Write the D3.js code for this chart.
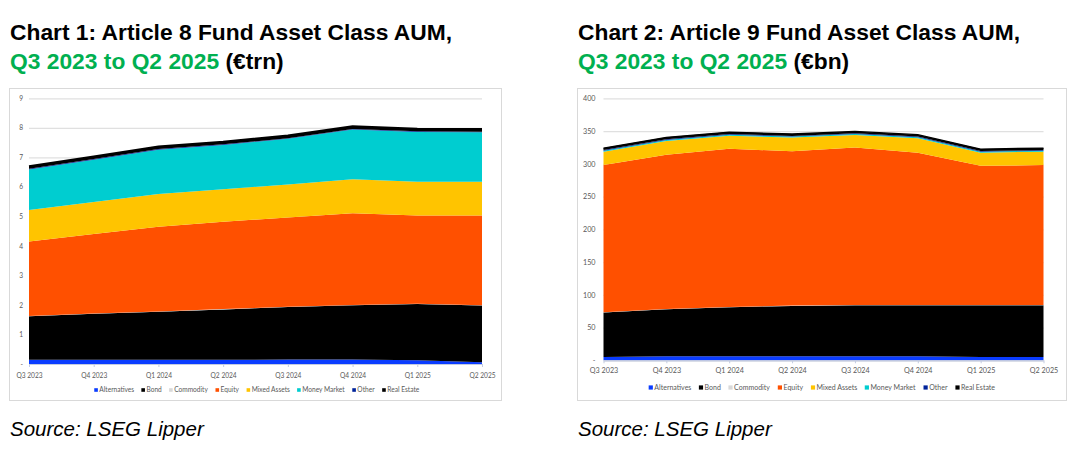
<!DOCTYPE html>
<html>
<head>
<meta charset="utf-8">
<script src="https://cdn.jsdelivr.net/npm/d3@7"></script>
<style>
  body { margin: 0; background: #fff; }
  svg { display: block; }
</style>
</head>
<body>
<svg id="chart" width="1080" height="450"></svg>
<script>
// DATA

var quarters = ["Q3 2023", "Q4 2023", "Q1 2024", "Q2 2024", "Q3 2024", "Q4 2024", "Q1 2025", "Q2 2025"];
var seriesNames = ["Alternatives", "Bond", "Commodity", "Equity", "Mixed Assets", "Money Market", "Other", "Real Estate"];
var seriesColors = ["#0a3cff", "#000000", "#d9d9d9", "#ff5000", "#ffc400", "#00cdd0", "#00239a", "#000000"];

// chart 1, article 8, EUR trn
var art8Alternatives = [0.14, 0.14, 0.14, 0.14, 0.15, 0.15, 0.13, 0.06];
var art8Bond         = [1.48, 1.56, 1.63, 1.71, 1.78, 1.84, 1.90, 1.92];
var art8Commodity    = [0.01, 0.01, 0.01, 0.01, 0.01, 0.01, 0.01, 0.01];
var art8Equity       = [2.52, 2.69, 2.87, 2.96, 3.02, 3.11, 2.99, 3.04];
var art8Mixed        = [1.07, 1.09, 1.11, 1.10, 1.12, 1.15, 1.14, 1.14];
var art8Money        = [1.37, 1.43, 1.50, 1.50, 1.55, 1.68, 1.69, 1.68];
var art8Other        = [0.02, 0.02, 0.02, 0.02, 0.02, 0.02, 0.02, 0.02];
var art8RealEstate   = [0.09, 0.09, 0.09, 0.09, 0.09, 0.09, 0.09, 0.09];
var art8Ticks = [0, 1, 2, 3, 4, 5, 6, 7, 8, 9];

// chart 2, article 9, EUR bn
var art9Alternatives = [5, 6, 6, 6, 6, 6, 5, 5];
var art9Bond         = [68, 72, 75, 77, 78, 78, 79, 79];
var art9Commodity    = [0.5, 0.5, 0.5, 0.5, 0.5, 0.5, 0.5, 0.5];
var art9Equity       = [224.5, 235.5, 241.5, 235.5, 240.5, 232.5, 212.5, 213.5];
var art9Mixed        = [20.5, 21, 20, 21, 19, 22, 20, 20.5];
var art9Money        = [1.5, 1.5, 1.5, 1.5, 1.5, 1.5, 1.5, 1.5];
var art9Other        = [1, 1, 1, 1, 1, 1, 1, 1];
var art9RealEstate   = [3, 3, 3, 3, 3, 3, 3, 3];
var art9Ticks = [0, 50, 100, 150, 200, 250, 300, 350, 400];

var svg = d3.select('#chart');

// turn the named arrays into rows for d3.stack
var makeRows = function (cols) {
  return quarters.map(function (q, i) {
    var row = {quarter: q};
    seriesNames.forEach(function (name, j) { row[name] = cols[j][i]; });
    return row;
  });
};

// TITLES + SOURCE

var drawTitle = function (x, number, article, unit) {
  svg.append('text')
    .attr('x', x).attr('y', 40)
    .style('font-family', 'Liberation Sans, Arial, sans-serif')
    .style('font-weight', 'bold')
    .style('font-size', '22.8px')
    .text('Chart ' + number + ': Article ' + article + ' Fund Asset Class AUM,');
  var t2 = svg.append('text')
    .attr('x', x).attr('y', 69)
    .style('font-family', 'Liberation Sans, Arial, sans-serif')
    .style('font-weight', 'bold')
    .style('font-size', '22.8px');
  t2.append('tspan').attr('fill', '#00b050').text('Q3 2023 to Q2 2025');
  t2.append('tspan').attr('fill', '#000').text(' (' + unit + ')');

  svg.append('text')
    .attr('x', x).attr('y', 436)
    .style('font-family', 'Liberation Sans, Arial, sans-serif')
    .style('font-style', 'italic')
    .style('font-size', '20.5px')
    .text('Source: LSEG Lipper');
};

// ONE CHART

var drawChart = function (c) {
  var g = svg.append('g');

  g.append('rect')
    .attr('x', c.frame[0] + 0.5).attr('y', c.frame[1] + 0.5)
    .attr('width', c.frame[2] - c.frame[0]).attr('height', c.frame[3] - c.frame[1])
    .attr('fill', '#fff').attr('stroke', '#d9d9d9');

  var x = d3.scalePoint().domain(quarters).range([c.left, c.right]);
  var y = d3.scaleLinear().domain([0, c.ticks[c.ticks.length - 1]]).range([c.bottom, c.top]);

  // gridlines + y labels
  var yAxis = g.append('g')
    .attr('transform', 'translate(' + c.left + ',0)')
    .call(d3.axisLeft(y).tickValues(c.ticks).tickSize(-(c.right - c.left)).tickPadding(c.yPad)
      .tickFormat(function (d) { return d === 0 ? '-' : d; }));
  yAxis.select('.domain').remove();
  yAxis.selectAll('line').attr('stroke', '#e0e0e0').attr('stroke-width', 1.2);
  yAxis.selectAll('text')
    .attr('fill', '#595959')
    .style('font-family', 'Lato, sans-serif')
    .style('font-size', c.fontSize + 'px');

  // stacked areas
  var stacked = d3.stack().keys(seriesNames)(makeRows(c.cols));
  var area = d3.area()
    .x(function (d) { return x(d.data.quarter); })
    .y0(function (d) { return y(d[0]); })
    .y1(function (d) { return y(d[1]); });

  g.selectAll('path.layer')
    .data(stacked)
    .enter()
    .append('path')
    .attr('class', 'layer')
    .attr('d', area)
    .attr('fill', function (d, i) { return seriesColors[i]; });

  // top outline (real estate sits on top as a thin black band)
  var top = stacked[stacked.length - 1];
  g.append('path')
    .datum(top)
    .attr('d', d3.line()
      .x(function (d) { return x(d.data.quarter); })
      .y(function (d) { return y(d[1]); }))
    .attr('fill', 'none').attr('stroke', '#000').attr('stroke-width', c.topLine);

  // x axis
  var xAxis = g.append('g')
    .attr('transform', 'translate(0,' + c.bottom + ')')
    .call(d3.axisBottom(x).tickSize(3).tickPadding(c.xPad).tickSizeOuter(0));
  xAxis.select('.domain').attr('stroke', '#c3cbe0').attr('stroke-width', 1.2);
  xAxis.selectAll('line').attr('stroke', '#c3cbe0');
  xAxis.selectAll('text')
    .attr('fill', '#595959')
    .style('font-family', 'Lato, sans-serif')
    .style('font-size', c.fontSize + 'px');

  // legend, centred under the plot
  var legend = g.append('g');
  var items = legend.selectAll('g.item')
    .data(seriesNames)
    .enter()
    .append('g')
    .attr('class', 'item');
  items.append('rect')
    .attr('width', c.box).attr('height', c.box)
    .attr('y', -c.box / 2)
    .attr('fill', function (d, i) { return seriesColors[i]; });
  items.append('text')
    .attr('x', c.box + 1.5)
    .attr('dy', '0.35em')
    .attr('fill', '#595959')
    .style('font-family', 'Lato, sans-serif')
    .style('font-size', c.legendSize + 'px')
    .text(function (d) { return d; });
  var pos = 0;
  items.each(function () {
    var w = this.getBBox().width;
    d3.select(this).attr('transform', 'translate(' + pos + ',0)');
    pos += w + c.legendGap;
  });
  var total = pos - c.legendGap;
  legend.attr('transform', 'translate(' + (c.legendCenter - total / 2) + ',' + c.legendY + ')');
};

drawTitle(10, 1, 8, '€trn');
drawTitle(578, 2, 9, '€bn');

drawChart({
  cols: [art8Alternatives, art8Bond, art8Commodity, art8Equity, art8Mixed, art8Money, art8Other, art8RealEstate],
  ticks: art8Ticks,
  frame: [9, 88, 501, 400],
  left: 29, right: 482, top: 98.3, bottom: 364,
  yPad: 6, xPad: 6, fontSize: 6.6, topLine: 2,
  box: 3.6, legendSize: 6.6, legendGap: 7, legendCenter: 257, legendY: 390
});

drawChart({
  cols: [art9Alternatives, art9Bond, art9Commodity, art9Equity, art9Mixed, art9Money, art9Other, art9RealEstate],
  ticks: art9Ticks,
  frame: [577, 88, 1066, 400],
  left: 603.5, right: 1043.5, top: 98.3, bottom: 360.3,
  yPad: 8, xPad: 5, fontSize: 7.2, topLine: 1.3,
  box: 4.2, legendSize: 7.0, legendGap: 7.5, legendCenter: 822, legendY: 387.5
});
</script>
</body>
</html>
